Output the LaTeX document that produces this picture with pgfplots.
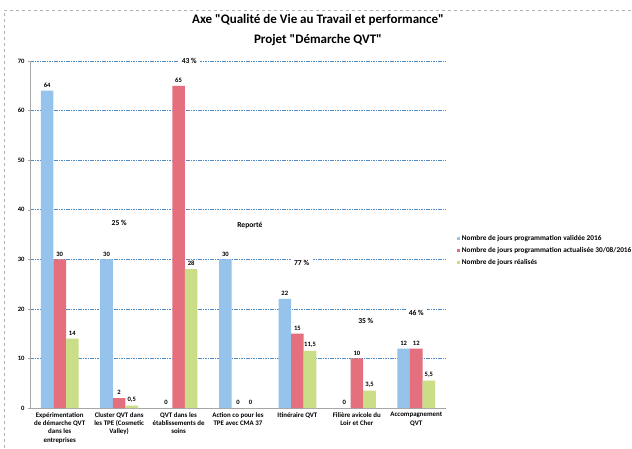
\documentclass[border=0pt]{standalone}
\usepackage{fontspec}
\setmainfont{Carlito}
\newfontfamily\tfont{Carlito}[Ligatures=TeXOff]
\usepackage{pgfplots}
\pgfplotsset{compat=1.18}
\definecolor{cblue}{RGB}{150,195,235}
\definecolor{cred}{RGB}{228,112,126}
\definecolor{cgreen}{RGB}{202,222,135}
\definecolor{cgrid}{RGB}{79,140,200}
\begin{document}
\begin{tikzpicture}[x=1pt,y=1pt]
\useasboundingbox (0,0) rectangle (632,448);
\fill[white] (0,0) rectangle (632,448);
\draw[gray!60, dashed] (4,0) -- (4,438) -- (632,438);
\begin{axis}[
  at={(30pt,40pt)}, anchor=south west,
  scale only axis, width=416pt, height=347pt,
  ybar=0pt, bar width=12.6pt,
  xmin=-0.5, xmax=6.5, ymin=0, ymax=70,
  ytick={0,10,...,70},
  xtick={0,...,6},
  xticklabels={{Expérimentation\\de démarche QVT\\dans les\\entreprises},
               {Cluster QVT dans\\les TPE (Cosmetic\\Valley)},
               {QVT dans les\\établissements de\\soins},
               {Action co pour les\\TPE avec CMA 37},
               {Itinéraire QVT},
               {Filière avicole du\\Loir et Cher},
               {Accompagnement\\QVT}},
  xticklabel style={align=center, font=\fontsize{6.9}{8.4}\selectfont\bfseries, anchor=north, inner sep=2pt},
  yticklabel style={font=\fontsize{6.6}{7}\selectfont\bfseries},
  /pgf/number format/assume math mode=true,
  major x tick style={draw=none},
  major y tick style={gray!70},
  tick align=outside, major tick length=2pt,
  axis x line*=bottom, axis y line*=left,
  axis line style={gray!70, line width=0.6pt},
  ymajorgrids, grid style={cgrid, dash pattern=on 1.6pt off 0.8pt, line width=0.6pt},
  clip=false,
  nodes near coords,
  every node near coord/.append style={font=\fontsize{6.6}{7}\selectfont\bfseries, /pgf/number format/use comma, /pgf/number format/assume math mode=true, inner sep=3pt},
  legend style={at={(1.026,0.503)}, anchor=north west, draw=none, fill=none,
    font=\fontsize{7.3}{8}\selectfont\bfseries, row sep=1.2pt, inner sep=0pt},
  legend cell align=left,
  legend image code/.code={\fill[#1] (0pt,-1.3pt) rectangle (2.8pt,1.5pt);},
]
\addplot[fill=cblue, draw=none] coordinates {(0,64) (1,30) (2,0) (3,30) (4,22) (5,0) (6,12)};
\addplot[fill=cred, draw=none] coordinates {(0,30) (1,2) (2,65) (3,0) (4,15) (5,10) (6,12)};
\addplot[fill=cgreen, draw=none] coordinates {(0,14) (1,0.5) (2,28) (3,0) (4,11.5) (5,3.5) (6,5.5)};
\legend{Nombre de jours programmation validée 2016,
        Nombre de jours programmation actualisée 30/08/2016,
        Nombre de jours réalisés}
\node[font=\fontsize{7.6}{8}\selectfont\bfseries, fill=white, inner sep=1.5pt] at (axis cs:1,37.4) {25 \%};
\node[font=\fontsize{7.6}{8}\selectfont\bfseries, fill=white, inner sep=3pt] at (axis cs:2.18,70) {43 \%};
\node[font=\fontsize{7.6}{8}\selectfont\bfseries, fill=white, inner sep=1.5pt] at (axis cs:3.2,36.8) {Reporté};
\node[font=\fontsize{7.6}{8}\selectfont\bfseries, fill=white, inner sep=3pt] at (axis cs:4.07,29.2) {77 \%};
\node[font=\fontsize{7.6}{8}\selectfont\bfseries, fill=white, inner sep=1.5pt] at (axis cs:5.15,17.5) {35 \%};
\node[font=\fontsize{7.6}{8}\selectfont\bfseries, fill=white, inner sep=3pt] at (axis cs:6.0,19.2) {46 \%};
\end{axis}
\node[font=\tfont\fontsize{13}{15}\selectfont\bfseries] at (318,428) {Axe "Qualité de Vie au Travail et performance"};
\node[font=\tfont\fontsize{13}{15}\selectfont\bfseries] at (318,408) {Projet "Démarche QVT"};
\end{tikzpicture}
\end{document}
